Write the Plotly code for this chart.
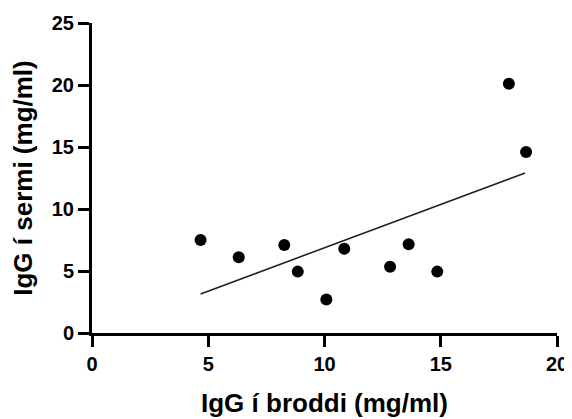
import plotly.graph_objects as go

# IgG in colostrum (x) vs IgG in serum (y), mg/ml
broddi = [4.67, 6.31, 8.27, 8.85, 10.08, 10.85, 12.82, 13.62, 14.85, 17.93, 18.67]
sermi = [7.5, 6.1, 7.1, 4.95, 2.7, 6.8, 5.35, 7.15, 4.95, 20.1, 14.6]

# regression line end points
fit_x = [4.67, 18.63]
fit_y = [3.15, 12.9]

x_ticks = [0, 5, 10, 15, 20]
y_ticks = [0, 5, 10, 15, 20, 25]

FONT = "Arial, Liberation Sans, sans-serif"

fig = go.Figure()

fig.add_trace(
    go.Scatter(
        x=fit_x,
        y=fit_y,
        mode="lines",
        line=dict(color="#222222", width=1.6),
        hoverinfo="skip",
        showlegend=False,
    )
)

fig.add_trace(
    go.Scatter(
        x=broddi,
        y=sermi,
        mode="markers",
        marker=dict(color="black", size=12),
        hovertemplate="%{x}<br>%{y}<extra></extra>",
        showlegend=False,
    )
)

axis_common = dict(
    showgrid=False,
    zeroline=False,
    showline=True,
    linecolor="black",
    linewidth=3,
    ticks="outside",
    ticklen=11,
    tickwidth=3,
    tickcolor="black",
    automargin=False,
    tickfont=dict(family=FONT, size=20, color="black", weight="bold"),
)

# the page body has an 8px margin, so the figure is a bit smaller than the window
fig.update_layout(
    width=564,
    height=411,
    plot_bgcolor="white",
    paper_bgcolor="white",
    margin=dict(l=84, r=15, t=15, b=86),
    xaxis=dict(
        range=[0, 20],
        tickvals=x_ticks,
        title=dict(
            text="<b>IgG í broddi (mg/ml)</b>",
            font=dict(family=FONT, size=26, color="black"),
            standoff=20,
        ),
        **axis_common,
    ),
    yaxis=dict(
        range=[0, 25],
        tickvals=y_ticks,
        title=dict(
            text="<b>IgG í sermi (mg/ml)</b>",
            font=dict(family=FONT, size=26, color="black"),
            standoff=12,
        ),
        **axis_common,
    ),
)

fig.write_html("out.html")
